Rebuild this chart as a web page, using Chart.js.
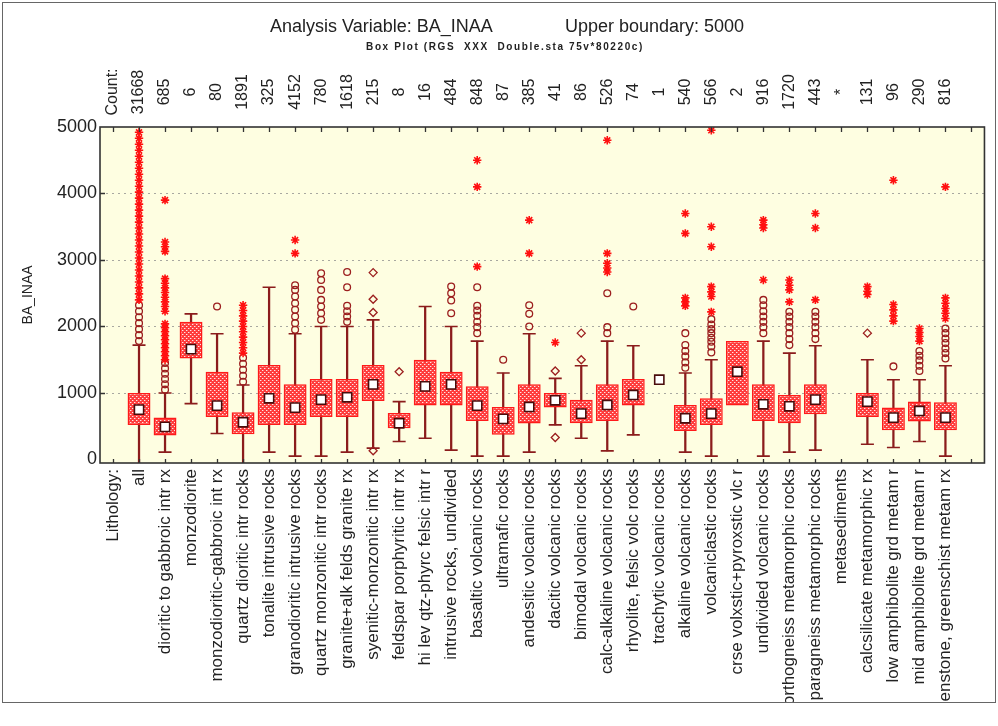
<!DOCTYPE html>
<html><head><meta charset="utf-8">
<script src="https://cdn.jsdelivr.net/npm/chart.js@4.4.1/dist/chart.umd.min.js"></script>
<style>html,body{margin:0;padding:0;background:#fff}</style>
</head><body>
<canvas id="c" width="998" height="726" style="display:block;width:998px;height:726px"></canvas>
<script>
// ---------- DATA ----------
const categories = [
  'all','dioritic to gabbroic intr rx','monzodiorite','monzodioritic-gabbroic int rx',
  'quartz dioritic intr rocks','tonalite intrusive rocks','granodioritic intrusive rocks',
  'quartz monzonitic intr rocks','granite+alk felds granite rx','syenitic-monzonitic intr rx',
  'feldspar porphyritic intr rx','hi lev qtz-phyrc felsic intr r','intrusive rocks, undivided',
  'basaltic volcanic rocks','ultramafic rocks','andesitic volcanic rocks','dacitic volcanic rocks',
  'bimodal volcanic rocks','calc-alkaline volcanic rocks','rhyolite, felsic volc rocks',
  'trachytic volcanic rocks','alkaline volcanic rocks','volcaniclastic rocks',
  'crse volxstic+pyroxstic vlc r','undivided volcanic rocks','orthogneiss metamorphic rocks',
  'paragneiss metamorphic rocks','metasediments','calcsilicate metamorphic rx',
  'low amphibolite grd metam r','mid amphibolite grd metam r','greenstone, greenschist metam rx'
];
const counts = [31668,685,6,80,1891,325,4152,780,1618,215,8,16,484,848,87,385,41,86,526,74,1,540,566,2,916,1720,443,null,131,96,290,816];
const medians = [750,490,1660,810,560,920,780,900,935,1130,545,1100,1130,810,610,790,890,690,820,970,1200,620,690,1320,830,800,900,null,870,630,730,630];
const q1 = [520,360,1520,640,380,520,520,640,640,880,470,810,810,580,370,540,780,545,580,810,null,430,520,810,580,545,680,null,640,440,570,440];
const q3 = [1000,630,2070,1320,710,1420,1130,1210,1210,1420,700,1500,1320,1100,790,1130,1000,900,1130,1210,null,820,920,1780,1130,970,1130,null,1000,780,870,860];
const whiskerLow = [-50,110,840,390,-50,110,50,50,110,170,270,320,140,50,50,110,520,320,130,370,null,110,50,null,50,110,140,null,230,180,270,50];
const whiskerHigh = [1720,1000,2190,1890,1120,2590,1890,2000,2000,2100,870,2300,2000,1780,1300,1890,1220,1410,1780,1710,null,1300,1500,null,1780,1600,1710,null,1500,1200,1200,1410];
const outliers = [
  [1780,1870,1960,2050,2140,2230,2320],
  [1050,1130,1210,1290,1370,1450],
  [], [2300],
  [1170,1260,1350,1440,1530],
  [],
  [1950,2050,2150,2250,2350,2450,2550,2620],
  [2100,2200,2300,2400,2550,2700,2800],
  [2070,2150,2230,2310,2590,2820],
  [], [], [],
  [2200,2390,2500,2600],
  [1900,1990,2070,2160,2240,2310,2590],
  [1500],
  [2000,2190,2320],
  [], [],
  [1900,1990,2500],
  [2300],
  [],
  [1380,1460,1550,1630,1720,1900],
  [1610,1700,1770,1830,1900,1960,2030,2110],
  [],
  [1900,1990,2070,2150,2230,2320,2400],
  [1720,1810,1900,1990,2070,2150,2220],
  [1810,1900,1990,2070,2150,2220],
  [], [],
  [1400],
  [1330,1410,1490,1560,1630],
  [1520,1600,1670,1750,1820,1900,1970]
];
const diamonds = [
  [],[],[],[],[],[],[],[],[],
  [130,2210,2410,2810],
  [1320],
  [],[],[],[],[],
  [330,1330],
  [1500,1900],
  [],[],[],[],[],[],[],[],[],[],
  [1900],
  [],[],[]
];
const extremes = [
  [2400,2490,2580,2670,2760,2850,2940,3030,3120,3210,3300,3390,3480,3570,3660,3750,3840,3930,4020,4110,4200,4290,4380,4470,4560,4650,4740,4830,4920],
  [1500,1560,1620,1680,1740,1800,1860,1920,1980,2040,2230,2300,2370,2440,2510,2580,2650,2720,3130,3200,3270,3900],
  [], [],
  [1600,1680,1760,1840,1920,2000,2080,2160,2240,2320],
  [],
  [3100,3300],
  [], [], [], [], [], [],
  [2900,4100,4500],
  [],
  [3100,3600],
  [1760],
  [],
  [2820,2880,2950,3100,4800],
  [], [],
  [2310,2370,2430,3400,3700],
  [2220,2450,2520,2600,3200,3500,4950],
  [],
  [2700,3480,3530,3600],
  [2370,2550,2620,2700],
  [2400,3480,3700],
  [],
  [2480,2530,2600],
  [2080,2160,2250,2330,4200],
  [1780,1850,1910,1970],
  [2120,2200,2270,2350,2430,4100]
];
const yTicks = [0,1000,2000,3000,4000,5000];
const gridValues = [1000,2000,3000,4000];
const titleText = 'Analysis Variable: BA_INAA';
const titleText2 = 'Upper boundary: 5000';
const subtitleText = 'Box Plot (RGS  XXX  Double.sta 75v*80220c)';

// ---------- BUILD ----------
const FONT = '"Liberation Sans", Arial, Helvetica, sans-serif';
const labels = ['Lithology:', ...categories, ''];
const boxData = [null, ...categories.map((_, i) => q1[i] == null ? null : [q1[i], q3[i]]), null];
const whiskerData = [null, ...categories.map((_, i) => whiskerLow[i] == null ? null : [whiskerLow[i], whiskerHigh[i]]), null];
const capPts = [];
categories.forEach((c, i) => {
  if (whiskerLow[i] != null && whiskerLow[i] > 0) capPts.push({x: c, y: whiskerLow[i]});
  if (whiskerHigh[i] != null) capPts.push({x: c, y: whiskerHigh[i]});
});
const medPts = [];
categories.forEach((c, i) => { if (medians[i] != null) medPts.push({x: c, y: medians[i]}); });
const pts = arr => { const o = []; categories.forEach((c, i) => arr[i].forEach(v => o.push({x: c, y: v}))); return o; };

const canvas = document.getElementById('c');
const mainCtx = canvas.getContext('2d');
function makePattern() {
  const t = document.createElement('canvas'); t.width = 4; t.height = 4;
  const g = t.getContext('2d');
  g.fillStyle = '#ff3c3c'; g.fillRect(0, 0, 4, 4);
  g.fillStyle = '#ffe6e6';
  g.fillRect(0, 0, 1, 1); g.fillRect(2, 2, 1, 1);
  g.fillStyle = '#ff8080';
  g.fillRect(1, 0, 1, 1); g.fillRect(3, 2, 1, 1);
  return mainCtx.createPattern(t, 'repeat');
}
const boxPattern = makePattern();
const BOTTOM_CLIP = 702;

const decor = {
  id: 'decor',
  beforeDraw(chart) {
    const {ctx, chartArea: a} = chart;
    ctx.save();
    ctx.fillStyle = '#ffffff';
    ctx.fillRect(0, 0, chart.width, chart.height);
    ctx.fillStyle = '#fefee1';
    ctx.fillRect(a.left, a.top, a.right - a.left, a.bottom - a.top);
    const y = chart.scales.y;
    ctx.strokeStyle = '#a8a8a0';
    ctx.lineWidth = 1.2;
    ctx.setLineDash([2, 4]);
    gridValues.forEach(v => {
      const py = Math.round(y.getPixelForValue(v)) + 0.5;
      ctx.beginPath(); ctx.moveTo(a.left, py); ctx.lineTo(a.right, py); ctx.stroke();
    });
    ctx.restore();
  },
  afterDraw(chart) {
    const {ctx, chartArea: a} = chart;
    const x = chart.scales.x, y = chart.scales.y;
    ctx.save();
    ctx.fillStyle = '#ffffff';
    ctx.fillRect(0, BOTTOM_CLIP, chart.width, chart.height - BOTTOM_CLIP);
    ctx.strokeStyle = '#333';
    ctx.lineWidth = 1.6;
    ctx.strokeRect(a.left, a.top, a.right - a.left, a.bottom - a.top);
    ctx.lineWidth = 1.3;
    ctx.beginPath();
    for (let i = 0; i < labels.length; i++) {
      const px = Math.round(x.getPixelForValue(i)) + 0.5;
      ctx.moveTo(px, a.top); ctx.lineTo(px, a.top + 5);
      ctx.moveTo(px, a.bottom); ctx.lineTo(px, a.bottom - 4);
    }
    gridValues.forEach(v => {
      const py = Math.round(y.getPixelForValue(v)) + 0.5;
      ctx.moveTo(a.left, py); ctx.lineTo(a.left + 5, py);
    });
    ctx.stroke();
    ctx.lineWidth = 1;
    ctx.strokeStyle = '#666';
    ctx.strokeRect(2.5, 2.5, chart.width - 5, BOTTOM_CLIP - 2);
    ctx.fillStyle = '#222';
    ctx.textBaseline = 'middle';
    ctx.textAlign = 'left';
    ctx.font = '18px ' + FONT;
    ctx.fillText(titleText, 270, 27);
    ctx.fillText(titleText2, 565, 27);
    ctx.font = 'bold 10px ' + FONT;
    ctx.textAlign = 'center';
    try { ctx.letterSpacing = '1.6px'; } catch (e) {}
    ctx.fillText(subtitleText, 505, 47);
    try { ctx.letterSpacing = '0px'; } catch (e) {}
    ctx.font = '16px ' + FONT;
    for (let i = 0; i < labels.length - 1; i++) {
      const txt = i === 0 ? 'Count:' : (counts[i - 1] == null ? '*' : String(counts[i - 1]));
      const px = x.getPixelForValue(i);
      ctx.save();
      ctx.translate(px, 92);
      ctx.rotate(-Math.PI / 2);
      ctx.textAlign = 'center';
      ctx.textBaseline = 'middle';
      ctx.fillText(txt, 0, 0);
      ctx.restore();
    }
    ctx.restore();
  }
};

new Chart(canvas, {
  type: 'bar',
  data: {
    labels,
    datasets: [
      { type: 'scatter', label: 'extremes', data: pts(extremes), pointStyle: 'star', radius: 4.2,
        borderColor: '#ff1010', backgroundColor: '#ff1010', borderWidth: 1.6, order: 1 },
      { type: 'scatter', label: 'outliers', data: pts(outliers), pointStyle: 'circle', radius: 3.4,
        borderColor: '#9c1f1f', backgroundColor: 'rgba(0,0,0,0)', borderWidth: 1.3, order: 1 },
      { type: 'scatter', label: 'diamonds', data: pts(diamonds), pointStyle: 'rectRot', radius: 4,
        borderColor: '#9c1f1f', backgroundColor: 'rgba(0,0,0,0)', borderWidth: 1.3, order: 1 },
      { type: 'scatter', label: 'median', data: medPts, pointStyle: 'rect', radius: 6.5,
        borderColor: '#4a0c0c', backgroundColor: '#ffffff', borderWidth: 1.6, order: 2 },
      { type: 'scatter', label: 'caps', data: capPts, pointStyle: 'line', radius: 6.5,
        borderColor: '#8b1c1c', borderWidth: 1.6, order: 3 },
      { type: 'bar', label: 'box', data: boxData, backgroundColor: boxPattern, borderColor: '#ff1a1a',
        borderWidth: 1.5, borderSkipped: false, grouped: false, barPercentage: 0.88, categoryPercentage: 1, order: 4 },
      { type: 'bar', label: 'whisker', data: whiskerData, backgroundColor: '#8b1c1c', borderWidth: 0,
        grouped: false, barThickness: 1.6, order: 5 }
    ]
  },
  options: {
    responsive: false,
    animation: false,
    events: [],
    layout: { padding: { top: 127, right: 10, left: 0, bottom: 0 } },
    plugins: { legend: { display: false }, tooltip: { enabled: false }, title: { display: false } },
    scales: {
      x: {
        type: 'category', offset: true,
        grid: { display: false, drawTicks: false }, border: { display: false },
        ticks: { autoSkip: false, maxRotation: 90, minRotation: 90, padding: 6, color: '#222',
                 font: { family: FONT, size: 17 } },
        afterFit: s => { s.height = 263; }
      },
      y: {
        min: -53, max: 5000,
        afterBuildTicks: s => { s.ticks = yTicks.map(v => ({ value: v })); },
        grid: { display: false, drawTicks: false }, border: { display: false },
        ticks: { padding: 3, color: '#222', font: { family: FONT, size: 18 }, callback: v => String(v) },
        title: { display: true, text: 'BA_INAA', color: '#222', padding: { top: 20, bottom: 0 },
                 font: { family: FONT, size: 14 } },
        afterFit: s => { s.width = 100; }
      }
    }
  },
  plugins: [decor]
});
</script>
</body></html>
